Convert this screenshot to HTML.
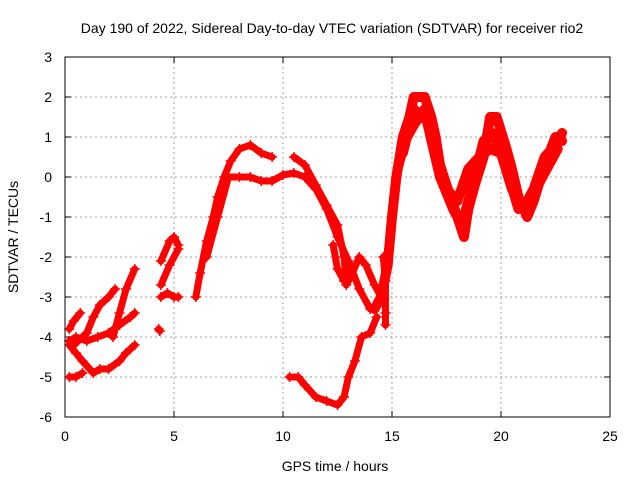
<!DOCTYPE html>
<html><head><meta charset="utf-8"><style>
body{margin:0;background:#fff;}
svg{display:block;font-family:"Liberation Sans",sans-serif;}
</style></head><body>
<svg id="chart" width="640" height="480" viewBox="0 0 640 480">
<text x="332" y="33" font-size="14" text-anchor="middle" fill="#000">Day 190 of 2022, Sidereal Day-to-day VTEC variation (SDTVAR) for receiver rio2</text>
<text transform="translate(18,237) rotate(-90)" font-size="14" text-anchor="middle">SDTVAR / TECUs</text>
<text x="335" y="471" font-size="14" text-anchor="middle">GPS time / hours</text>
<g id="grid"></g><g id="ticks"></g><g id="marks"></g>
<rect x="65" y="57" width="545" height="360" fill="none" stroke="#000" stroke-width="1"/>
</svg>
<script>
const xTicks=[0,5,10,15,20,25];
const yTicks=[3,2,1,0,-1,-2,-3,-4,-5,-6];
const traceA=[[0.2,-5],[0.5,-5],[0.8,-4.9]];
const traceB=[[0.2,-4.2],[0.5,-4.4],[0.8,-4.6],[1.3,-4.9],[1.6,-4.8],[2.0,-4.8],[2.5,-4.6],[2.8,-4.4],[3.2,-4.2]];
const traceC=[[0.2,-4.1],[0.5,-4.0],[1.0,-4.1],[1.5,-4.0],[2.0,-3.9],[2.5,-3.7],[3.0,-3.5],[3.2,-3.4]];
const traceD=[[0.2,-3.8],[0.4,-3.6],[0.7,-3.4]];
const traceE=[[0.4,-4.2],[1.0,-3.9],[1.3,-3.5],[1.6,-3.2],[2.0,-3.0],[2.3,-2.8]];
const traceF=[[2.2,-4.0],[2.5,-3.4],[2.8,-2.8],[3.2,-2.3]];
const traceG=[[4.3,-3.8],[4.35,-3.85]];
const traceH=[[4.4,-3.0],[4.7,-2.9],[5.0,-3.0],[5.2,-3.0]];
const traceI=[[4.4,-2.7],[4.8,-2.2],[5.2,-1.8]];
const traceJ=[[4.4,-2.1],[4.8,-1.6],[5.0,-1.5],[5.2,-1.7]];
const traceK=[[6.0,-3.0],[6.2,-2.4],[6.5,-1.6],[6.8,-1.0],[7.0,-0.5],[7.3,0],[7.6,0.4],[8.0,0.7],[8.5,0.8],[9.0,0.6],[9.5,0.5]];
const traceL=[[6.5,-2.0],[7.0,-1.0],[7.5,0],[8,0],[8.5,0],[9,-0.1],[9.5,-0.1],[10,0.05],[10.5,0.1],[11,0],[11.5,-0.3],[12,-0.8],[12.5,-1.5],[13,-2.1],[13.5,-2.8],[14,-3.3]];
const traceM=[[10.5,0.5],[11,0.3],[11.5,-0.2],[12,-0.7],[12.5,-1.2],[12.8,-2.0],[12.9,-2.7],[13.1,-2.5],[13.5,-2.0],[13.8,-2.2],[14.2,-2.7],[14.5,-3.0]];
const traceN=[[12.3,-1.7],[12.5,-2.3],[12.8,-2.6]];
const traceO=[[10.3,-5],[10.7,-5],[11,-5.2],[11.5,-5.5],[12,-5.6],[12.5,-5.7],[12.8,-5.5],[13.0,-5.0],[13.3,-4.6],[13.6,-4.0],[14.0,-3.9],[14.3,-3.5]];
const traceP=[[14.2,-3.3],[14.5,-3.0],[14.8,-2.2],[15.0,-1.0],[15.2,0],[15.5,1.0],[15.8,1.5],[16.0,2.0],[16.5,2.0],[16.8,1.5],[17.0,1.0],[17.2,0.3],[17.5,-0.2],[18.0,-1.0],[18.3,-1.5],[18.5,-0.8],[18.8,-0.2],[19.2,0.5],[19.5,1.5],[19.8,1.5],[20.2,0.8],[20.5,0.2],[20.8,-0.5],[21.2,-1.0],[21.5,-0.6],[22.0,0.3],[22.5,1.0],[22.8,0.9]];
const traceQ=[[15.3,0.3],[15.6,0.9],[16,1.3],[16.5,1.7],[17,0.7],[17.5,-0.3],[18,-0.6],[18.5,0.2],[19,0.5],[19.5,0.7],[20,0.6],[20.5,-0.3],[21,-0.8],[21.5,-0.3],[22,0.5],[22.5,0.8],[22.8,1.1]];
const traceR=[[14.6,-2.0],[14.7,-2.6],[14.7,-3.4],[14.7,-3.7]];
const traceS=[[15.5,0.6],[16.0,1.7],[16.6,1.4],[17.2,0.0],[17.8,-0.8],[18.2,-1.2],[18.6,-0.4],[19.2,0.9],[19.6,1.1],[20.2,0.3],[20.8,-0.8],[21.4,-0.5],[22.0,0.1],[22.6,0.7]];
const traces=[traceA,traceB,traceC,traceD,traceE,traceF,traceG,traceH,traceI,traceJ,traceK,traceL,traceM,traceN,traceO,traceP,traceQ,traceR,traceS];
const X0=65,X1=610,Y0=417,Y1=57;
const xs=h=>X0+(h-0)/(25-0)*(X1-X0);
const ys=v=>Y0-(v+6)/9*(Y0-Y1);
const NS='http://www.w3.org/2000/svg';
const grid=document.getElementById('grid'),tk=document.getElementById('ticks'),mk=document.getElementById('marks');
function mkEl(t,a){const e=document.createElementNS(NS,t);for(const k in a)e.setAttribute(k,a[k]);return e;}
xTicks.forEach(t=>{const x=xs(t);
 if(t>0&&t<25){const g=mkEl('line',{x1:x,x2:x,y1:Y1,y2:Y0,stroke:'#a0a0a0','stroke-dasharray':'2,3'});
 
 grid.appendChild(g);}
 const l=mkEl('line',{x1:x,x2:x,y1:Y0,y2:Y0-6,stroke:'#000'});tk.appendChild(l);
 const l2=mkEl('line',{x1:x,x2:x,y1:Y1,y2:Y1+6,stroke:'#000'});tk.appendChild(l2);
 const s=mkEl('text',{x:x,y:Y0+24,'font-size':14,'text-anchor':'middle'});s.textContent=t;
 
 tk.appendChild(s);});
yTicks.forEach(t=>{const y=ys(t);
 if(t>-6&&t<3){const g=mkEl('line',{x1:X0,x2:X1,y1:y,y2:y,stroke:'#a0a0a0','stroke-dasharray':'2,3'});
 
 grid.appendChild(g);}
 tk.appendChild(mkEl('line',{x1:X0,x2:X0+6,y1:y,y2:y,stroke:'#000'}));
 tk.appendChild(mkEl('line',{x1:X1,x2:X1-6,y1:y,y2:y,stroke:'#000'}));
 const s=mkEl('text',{x:X0-13,y:y+5,'font-size':14,'text-anchor':'end'});s.textContent=t;
 
 tk.appendChild(s);});
traces.forEach((tr,i)=>{
 const g=mkEl('g',{});
 
 
 const w=(i>=15&&i!==17)?10:7;
 const pl=mkEl('polyline',{points:tr.map(p=>xs(p[0])+','+ys(p[1])).join(' '),fill:'none',stroke:'#f00','stroke-width':w,'stroke-linejoin':'round','stroke-linecap':'round'});
 g.appendChild(pl);
 tr.forEach(p=>{const x=xs(p[0]),y=ys(p[1]);
  const m=mkEl('path',{d:`M${x-5},${y}H${x+5}M${x},${y-5}V${y+5}`,stroke:'#f00','stroke-width':1.5});
  
  g.appendChild(m);});
 mk.appendChild(g);});
</script>
</body></html>
